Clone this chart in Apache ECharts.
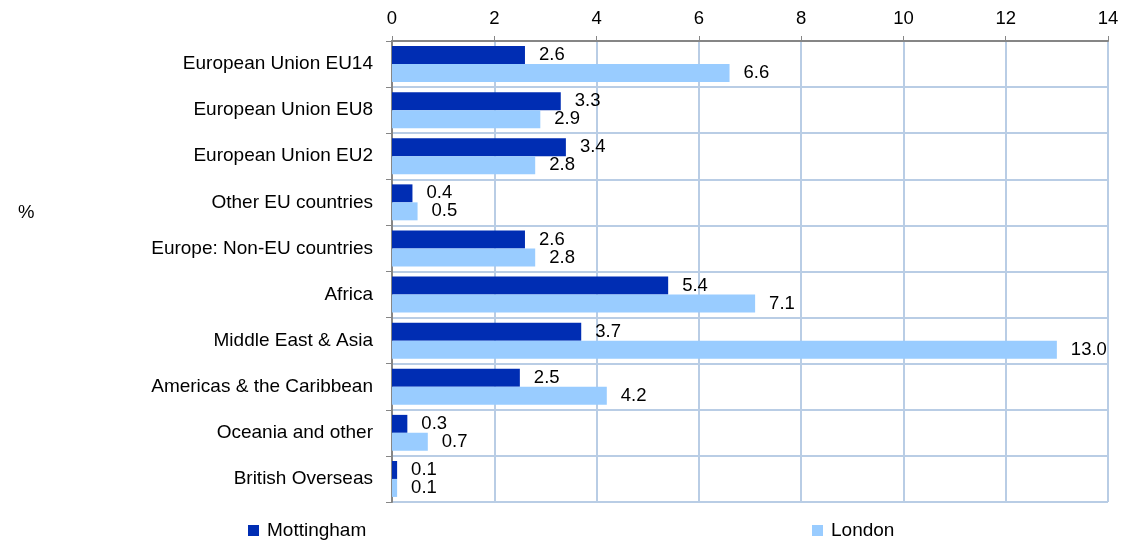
<!DOCTYPE html>
<html>
<head>
<meta charset="utf-8">
<script src="https://cdn.jsdelivr.net/npm/echarts@6/dist/echarts.min.js"></script>
<style>
  html, body { margin: 0; padding: 0; background: #fff; }
  #chart { width: 1133px; height: 542px; }
</style>
</head>
<body>
<div id="chart"></div>
<script>
const categories = ['European Union EU14', 'European Union EU8', 'European Union EU2', 'Other EU countries',
  'Europe: Non-EU countries', 'Africa', 'Middle East & Asia', 'Americas & the Caribbean',
  'Oceania and other', 'British Overseas'];
const mottingham = [2.6, 3.3, 3.4, 0.4, 2.6, 5.4, 3.7, 2.5, 0.3, 0.1];
const london = [6.6, 2.9, 2.8, 0.5, 2.8, 7.1, 13.0, 4.2, 0.7, 0.1];

const font = 'Liberation Sans, Arial, sans-serif';
const fs = 18.5;
const gridColor = '#b9cde5';
const axisColor = '#868686';

const chart = echarts.init(document.getElementById('chart'));

const valueLabel = {
  show: true, position: 'right', distance: 14,
  color: '#000', fontSize: fs, fontFamily: font,
  formatter: p => p.value.toFixed(1)
};

chart.setOption({
  animation: false,
  textStyle: { fontFamily: font },
  grid: { left: 392, right: 25, top: 41, bottom: 40, containLabel: false },
  legend: [
    { data: ['Mottingham'], left: 248, top: 521, padding: 0, itemWidth: 11, itemHeight: 11, itemGap: 8,
      icon: 'rect', textStyle: { fontSize: 19, color: '#000', fontFamily: font, padding: [0, 0, 0, 3] } },
    { data: ['London'], left: 812, top: 521, padding: 0, itemWidth: 11, itemHeight: 11, itemGap: 8,
      icon: 'rect', textStyle: { fontSize: 19, color: '#000', fontFamily: font, padding: [0, 0, 0, 3] } }
  ],
  graphic: [{
    type: 'text', left: 18, top: 203,
    style: { text: '%', fontSize: fs, fill: '#000', fontFamily: font }
  }],
  xAxis: {
    type: 'value', position: 'top', min: 0, max: 14, interval: 2,
    axisLine: { show: true, lineStyle: { color: axisColor, width: 2 } },
    axisTick: { show: true, length: 5, lineStyle: { color: axisColor } },
    axisLabel: { color: '#000', fontSize: fs, fontFamily: font, margin: 13 },
    splitLine: { show: true, lineStyle: { color: gridColor, width: 2 } }
  },
  yAxis: {
    type: 'category', data: categories, inverse: true,
    axisLine: { show: true, lineStyle: { color: axisColor, width: 2 } },
    axisTick: { show: true, length: 6, lineStyle: { color: axisColor } },
    axisLabel: { color: '#000', fontSize: 19, fontFamily: font, margin: 19 },
    splitLine: { show: true, lineStyle: { color: gridColor, width: 2 } }
  },
  series: [
    { name: 'Mottingham', type: 'bar', data: mottingham, barGap: '0%', barCategoryGap: '22%',
      itemStyle: { color: '#002db3' }, label: valueLabel },
    { name: 'London', type: 'bar', data: london,
      itemStyle: { color: '#99ccff' }, label: valueLabel }
  ]
});
</script>
</body>
</html>
